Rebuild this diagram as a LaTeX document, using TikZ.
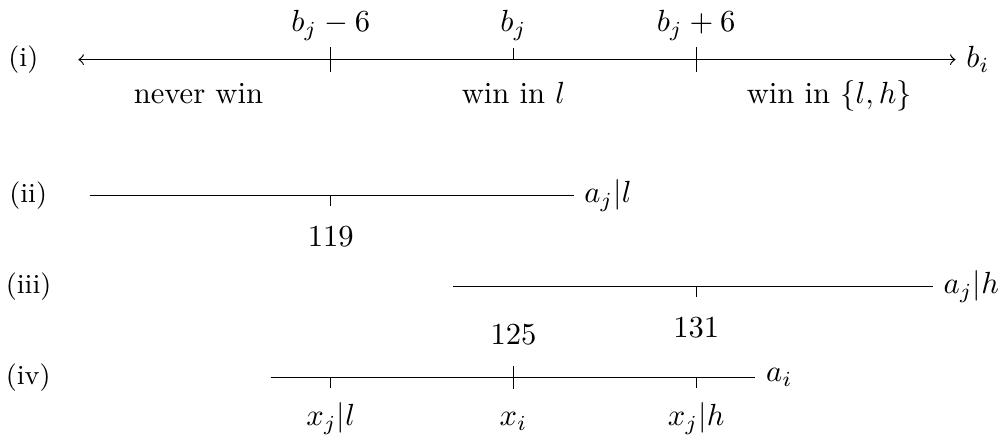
\documentclass[tikz,border=0pt]{standalone}
\usepackage{amsmath,amssymb}
\usepackage{tikz}
\tikzset{num/.style={anchor=base},
rowlbl/.style={anchor=west,inner sep=0pt,font=\small},
endlbl/.style={anchor=west},
tickmark/.style={thin}}

\begin{document}
\begin{tikzpicture}
\useasboundingbox (0,0) rectangle (11.56,5.03);
% (i) the axis for b_i
\coordinate (ia) at (0.9,4.345);
\coordinate (ib) at (10.98,4.345);
\draw[<->] (ia) -- (ib);
\node[rowlbl] (ri) at (0.09,4.345) {(i)};
\node[endlbl] (bi) at (ib) {$b_i$};
\foreach \x/\nm in {3.8/lo,5.9/mid,8.0/hi} {
 \coordinate (t\nm) at (\x,4.345);
}
\draw[tickmark] (tlo) ++(0,-0.14) -- ++(0,0.28);
\draw[tickmark] (thi) ++(0,-0.14) -- ++(0,0.28);
\draw[tickmark] (tmid) -- ++(0,0.13);
\node[num] (blo) at (3.8,4.667) {$b_j-6$};
\node[num] (bmid) at (5.9,4.667) {$b_j$};
\node[num] (bhi) at (8.0,4.667) {$b_j+6$};
\node[num] (never) at (2.28,3.84) {never win};
\node[num] (winl) at (5.9,3.84) {win in $l$};
\node[num] (winlh) at (9.53,3.84) {win in $\{l,h\}$};
% (ii)
\coordinate (iia) at (1.03,2.78);
\coordinate (iib) at (6.59,2.78);
\draw (iia) -- (iib);
\node[rowlbl] (rii) at (0.1,2.78) {(ii)};
\node[endlbl] (ajl) at (iib) {$a_j|l$};
\draw[tickmark] (3.8,2.78) coordinate (t119) -- ++(0,-0.12);
\node[num] (n119) at (3.8,2.195) {$119$};
% (iii)
\coordinate (iiia) at (5.21,1.736);
\coordinate (iiib) at (10.72,1.736);
\draw (iiia) -- (iiib);
\node[rowlbl] (riii) at (0.06,1.736) {(iii)};
\node[endlbl] (ajh) at (iiib) {$a_j|h$};
\draw[tickmark] (8.0,1.736) coordinate (t131) -- ++(0,-0.12);
\node[num] (n131) at (8.0,1.149) {$131$};
\node[num] (n125) at (5.9,1.069) {$125$};
% (iv)
\coordinate (iva) at (3.11,0.69);
\coordinate (ivb) at (8.68,0.69);
\draw (iva) -- (ivb);
\node[rowlbl] (riv) at (0.06,0.69) {(iv)};
\node[endlbl] (ai) at (ivb) {$a_i$};
\draw[tickmark] (3.8,0.69) coordinate (txl) -- ++(0,-0.12);
\draw[tickmark] (5.9,0.69) coordinate (txi) ++(0,-0.13) -- ++(0,0.26);
\draw[tickmark] (8.0,0.69) coordinate (txh) -- ++(0,-0.12);
\node[num] (xl) at (3.8,0.138) {$x_j|l$};
\node[num] (xi) at (5.9,0.138) {$x_i$};
\node[num] (xh) at (8.0,0.138) {$x_j|h$};
\end{tikzpicture}
\end{document}
